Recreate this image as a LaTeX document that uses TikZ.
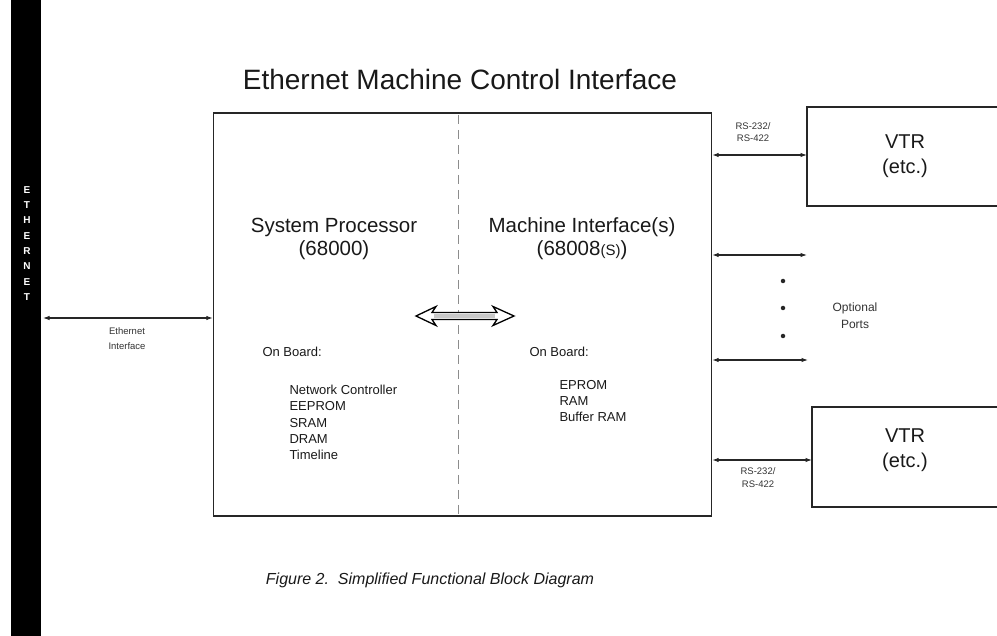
\documentclass[tikz,border=0pt]{standalone}
\usepackage{fontspec}
\setmainfont{Liberation Sans}
\usetikzlibrary{arrows.meta}
\begin{document}
\begin{tikzpicture}[x=1pt,y=-1pt,
  box/.style={draw=black!85, line width=1.4pt},
  link/.style={draw=black!85, line width=1.1pt, {Latex[length=6.5pt,width=4.5pt]}-{Latex[length=6.5pt,width=4.5pt]}},
  tiny/.style={font=\fontsize{9.5}{12.5}\selectfont, align=center, text=black!80},
  big/.style={font=\fontsize{20.5}{23}\selectfont, align=center, text=black!90},
  vtr/.style={font=\fontsize{20}{25}\selectfont, align=center, text=black!90},
  mid/.style={font=\fontsize{13}{16.2}\selectfont, align=left, anchor=west, text=black!90},
  dotn/.style={circle, fill=black!85, inner sep=0pt, minimum size=4.5pt}]
\useasboundingbox (0,0) rectangle (997,636);
% Ethernet bar
\fill[black] (11,0) rectangle (41,636);
\node[font=\bfseries\fontsize{10}{15.3}\selectfont, text=white, align=center] (eth) at (27,243.5) {E\\T\\H\\E\\R\\N\\E\\T};
\coordinate (barR) at (43,318);
% main box
\node[box, minimum width=498pt, minimum height=403pt, inner sep=0pt] (main) at (462.5,314.5) {};
\draw[dash pattern=on 9pt off 6pt, draw=black!45, line width=0.9pt] (458,115) -- (458,514);
% title
\node[font=\fontsize{28}{32}\selectfont, text=black!90] (title) at (460,79) {Ethernet Machine Control Interface};
% headings
\node[big] (sp) at (334,239) {System Processor\\(68000)};
\node[big] (mi) at (582,239) {Machine Interface(s)\\(68008{\fontsize{15}{16}\selectfont(S)})};
% on board lists
\node[mid] (ob1) at (259,352) {On Board:};
\node[mid] (l1) at (286,422.5) {Network Controller\\EEPROM\\SRAM\\DRAM\\Timeline};
\node[mid] (ob2) at (526,352) {On Board:};
\node[mid] (l2) at (556,401) {EPROM\\RAM\\Buffer RAM};
% center hollow double arrow
\filldraw[fill=white, draw=black, line width=1.3pt, line join=miter]
  (416,316) -- (436,306.5) -- (432,312.5) -- (497,312.5) -- (493,306.5) -- (514,316)
  -- (493,325.5) -- (497,319.5) -- (432,319.5) -- (436,325.5) -- cycle;
\fill[black!22] (434,314.3) rectangle (495,317.7);
% ethernet link
\draw[link] (barR) -- (main.west |- barR);
\node[tiny, font=\fontsize{9.5}{15}\selectfont] (ethl) at (127,338.5) {Ethernet\\Interface};
% VTR boxes (open to right)
\draw[box, line width=1.7pt] (997,107) -- (807,107) -- (807,206) -- (997,206);
\node[vtr] (vtr1) at (905,156) {VTR\\(etc.)};
\draw[box, line width=1.7pt] (997,407) -- (812,407) -- (812,507) -- (997,507);
\node[vtr] (vtr2) at (905,450) {VTR\\(etc.)};
\coordinate (v1) at (807,155);
\coordinate (v2) at (812,460);
\coordinate (p1) at (807,255);
\coordinate (p2) at (808,360);
\draw[link] (main.east |- v1) -- (v1);
\draw[link] (main.east |- p1) -- (p1);
\draw[link] (main.east |- p2) -- (p2);
\draw[link] (main.east |- v2) -- (v2);
\node[tiny] (rs1) at (753,132) {RS-232/\\RS-422};
\node[tiny] (rs2) at (758,477.5) {RS-232/\\RS-422};
\node[dotn] (d1) at (783,281) {};
\node[dotn] (d2) at (783,308) {};
\node[dotn] (d3) at (783,336) {};
\node[tiny, font=\fontsize{12}{17}\selectfont] (opt) at (855,316) {Optional\\Ports};
% caption
\node[font=\itshape\fontsize{16}{19}\selectfont, text=black!90] (cap) at (430,580) {Figure 2.\ \ Simplified Functional Block Diagram};
\end{tikzpicture}
\end{document}
